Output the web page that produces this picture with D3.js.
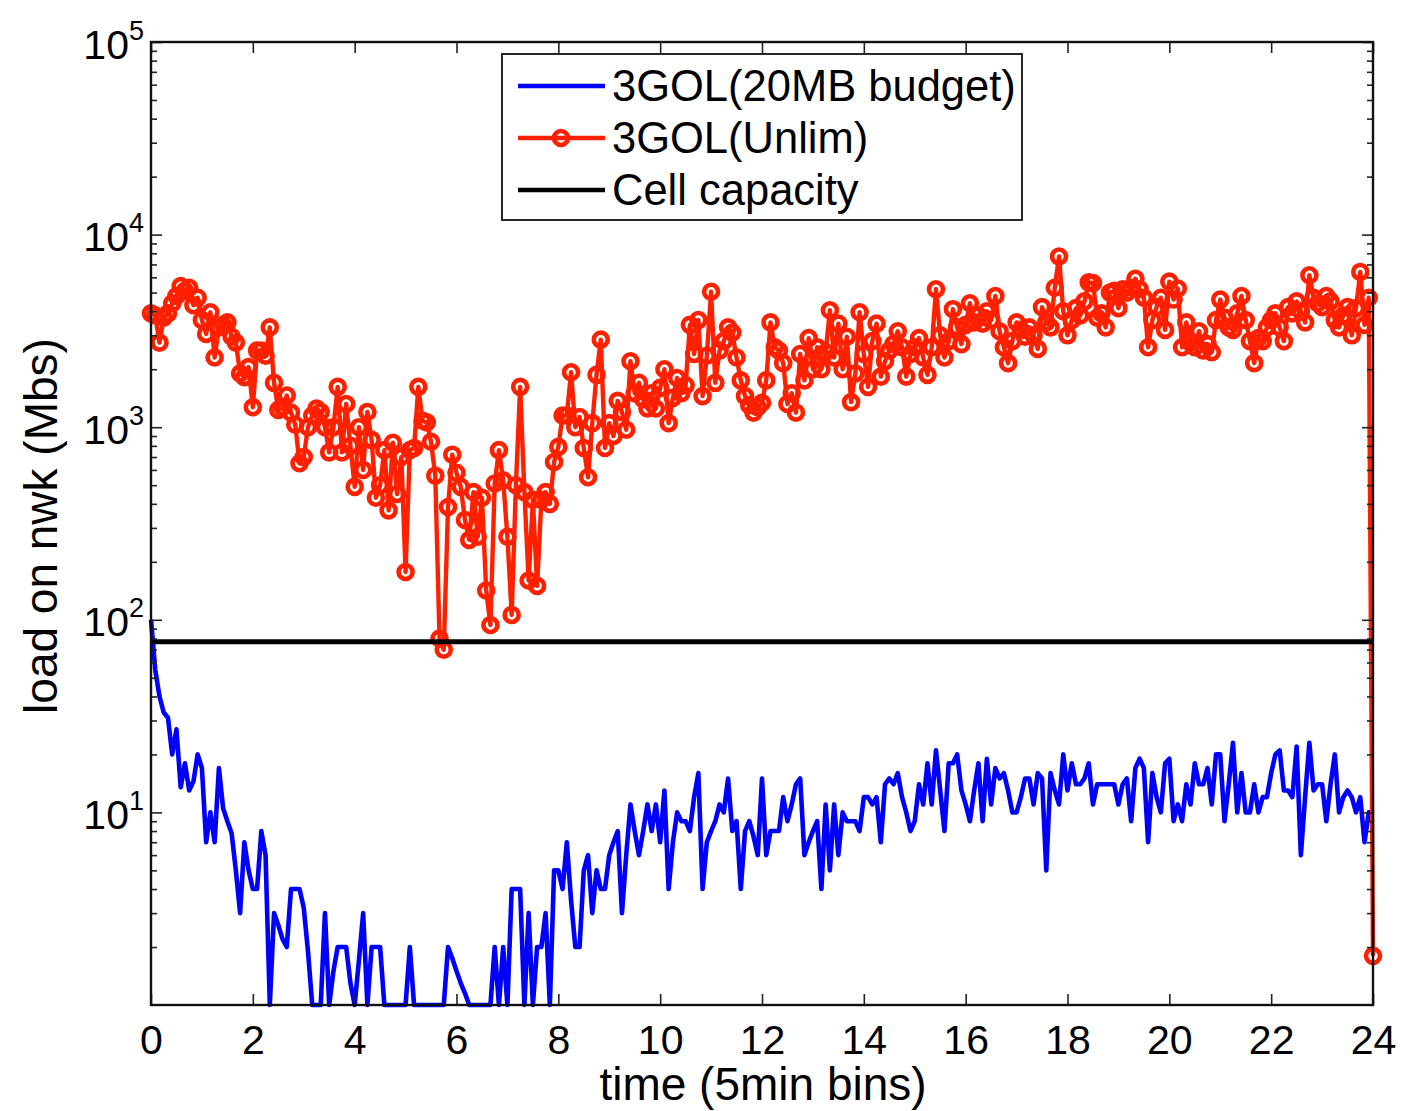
<!DOCTYPE html>
<html><head><meta charset="utf-8">
<script src="https://cdn.jsdelivr.net/npm/d3@7/dist/d3.min.js"></script>
<style>body{margin:0;background:#fff}svg{display:block}text{font-family:"Liberation Sans",Arial,Helvetica,sans-serif}</style>
</head><body><svg id="c" width="1403" height="1111"></svg>
<script>
// ---------- data ----------
const binMinutes = 5;
const xTicks = [0, 2, 4, 6, 8, 10, 12, 14, 16, 18, 20, 22, 24];
const yMajorTicks = [10, 100, 1000, 10000, 100000];
const yTickExponents = ["1", "2", "3", "4", "5"];
const seriesNames = ["3GOL(20MB budget)", "3GOL(Unlim)", "Cell capacity"];
const cellCapacity = 77;
const budgetLoad = [
100,55,40,33,31,20,27,13.5,18,13,14.5,20,17,7,10,7,17,10.5,9,7.8,
5,3,7,5,4,4,8,6,1,3,2.6,2.2,2,4,4,4,3.2,1.9,1,1,
1,3,1,1.5,2,2,2,1.3,1,1.7,3,1,2,2,2,1,1,1,1,1,
1,2,1,1,1,1,1,1,1,1,2,1.75,1.5,1.3,1.15,1,1,1,1,1,
1,2,1,2,1,4,4,4,1,3,1,2,2,3,1,5,5,4,7,3.5,
2,2,5,6,3,5,4,4,6,7,8,3,6,11,8,6,8,11,8,11,
7,13,4,7,10,9,9,8,12,16,4,7,8,9,11,10,15,8,9,4,
8,9,7.5,6,15,6,8,8,8,12,9,11,14,15,6,7,8,9,4,11,
5,11,6,10,9,9,9,8,12,12,11,12,7,14,15,14,16,12,10,8,
9,14,11,18,11,21,13,8,18,18,20,13,11,9,13,18,9,19,11,17,
15,16,13,10,10,12,15,15,11,16,15,5,16,13,11,20,13,18,14,14,
15,18,11,14,14,14,14,14,11,14,15,9,17,19,17,7,16,12,10,18,
19,9,11,9,14,11,18,14,14,17,11,20,20,9,14,23,10,16,10,10,
14,10,12,12,16,20,21,13,13,12,22,6,12,23,13,14,14,9,14,20,
10,12,13,12,10,12,7,10,10
];
const unlimLoad = [
3900,3800,2750,3700,3900,4400,4800,5400,5100,5300,4300,4700,3600,3050,3950,2300,3300,3400,3500,2950,
2750,1900,1820,2050,1270,2500,2500,2350,3300,1700,1230,1270,1460,1190,1030,650,700,1000,1150,1250,
1200,1000,740,1000,1620,740,1320,800,490,1000,600,1200,860,430,500,760,370,830,450,700,
177,760,780,1620,1080,1060,840,560,80,70,385,720,580,490,330,260,460,270,430,142,
94,510,760,530,270,106,500,1620,460,160,420,150,420,460,400,660,790,1150,1150,1930,
1000,1130,780,550,1050,1870,2850,780,1050,900,1370,1200,970,2200,1500,1700,1400,1250,1500,1250,
1600,2000,1050,1420,1800,1500,1650,3400,2400,3600,1450,2350,5050,1700,2500,2800,3300,3100,2300,1750,
1450,1300,1190,1270,1340,1750,3500,2600,2500,2150,1320,1500,1190,2400,1750,2900,2000,2600,2000,2450,
4050,2300,3450,2000,2950,1350,1900,3950,2400,1620,2800,3450,1830,2200,2500,2700,3150,2600,1830,2400,
2600,2900,2300,1870,2600,5200,3000,2300,2800,4100,3300,2700,3400,4400,3500,3800,3450,4000,3600,4800,
3150,2600,2150,2800,3500,3200,2950,3300,3000,2550,4200,3500,3300,5300,7700,4000,3000,3600,4150,3800,
4500,5650,5600,3700,3900,3300,5000,5100,4150,5200,5000,5300,5900,5200,4700,2600,3600,4200,4700,3200,
5700,4600,5250,2600,3500,2750,2600,3150,2500,2700,2450,3600,4600,3700,3300,3200,3900,4800,3600,2800,
2150,2900,2800,3300,3600,3900,3300,2800,4200,3900,4500,4000,3500,6150,4700,4400,4200,4800,4500,3600,
3300,3800,4200,3000,4150,6400,3400,4700,1.8
];

// ---------- chart ----------
const BLUE = "#0000ff", RED = "#ff2000", BLACK = "#000000";
const svg = d3.select("#c");
const L = 151, R = 1373, T = 42, B = 1005;
const x = d3.scaleLinear().domain([0, 24]).range([L, R]);
const y = d3.scaleLog().domain([1, 1e5]).range([B, T]);
const hours = i => i * binMinutes / 60;

const budgetPts = budgetLoad.map((v, i) => [hours(i), v]);
const unlimPts = unlimLoad.map((v, i) => [hours(i), v]);
const line = d3.line().x(d => x(d[0])).y(d => y(d[1]));

// series
svg.append("path").datum(budgetPts).attr("d", line)
  .attr("fill", "none").attr("stroke", BLUE).attr("stroke-width", 4.6).attr("stroke-linejoin", "round");
svg.append("path").datum(unlimPts).attr("d", line)
  .attr("fill", "none").attr("stroke", RED).attr("stroke-width", 4.4).attr("stroke-linejoin", "round");
svg.append("g").selectAll("circle").data(unlimPts).join("circle")
  .attr("cx", d => x(d[0])).attr("cy", d => y(d[1])).attr("r", 7)
  .attr("fill", "none").attr("stroke", RED).attr("stroke-width", 4.6);
svg.append("path").datum([[0, cellCapacity], [24, cellCapacity]]).attr("d", line)
  .attr("fill", "none").attr("stroke", BLACK).attr("stroke-width", 5);

// axes (ticks inward on all four sides)
const tickFont = "41px";
const xb = svg.append("g").attr("transform", `translate(0,${B})`)
  .call(d3.axisBottom(x).tickValues(xTicks).tickSizeInner(-11).tickSizeOuter(0).tickPadding(19).tickFormat(d3.format("d")));
xb.selectAll("text").attr("font-size", tickFont).attr("fill", "#000").attr("dy", "0.72em");
svg.append("g").attr("transform", `translate(0,${T})`)
  .call(d3.axisTop(x).tickValues(xTicks).tickSizeInner(-11).tickSizeOuter(0).tickFormat(""));

const minorVals = y.ticks().filter(v => !yMajorTicks.includes(v) && v > 1 && v < 1e5);
const yl = svg.append("g").attr("transform", `translate(${L},0)`)
  .call(d3.axisLeft(y).tickValues(yMajorTicks).tickSizeInner(-11).tickSizeOuter(0).tickPadding(6).tickFormat(() => ""));
yl.selectAll(".tick text").each(function(d, i) {
  const t = d3.select(this).text(null).attr("x", -7).attr("dy", null).attr("y", 16)
    .attr("text-anchor", "end").attr("fill", "#000");
  t.append("tspan").attr("font-size", tickFont).text("10");
  t.append("tspan").attr("font-size", "27px").attr("dy", -19).text(yTickExponents[i]);
});
svg.append("g").attr("transform", `translate(${L},0)`)
  .call(d3.axisLeft(y).tickValues(minorVals).tickSizeInner(-6).tickSizeOuter(0).tickFormat(""));
svg.append("g").attr("transform", `translate(${R},0)`)
  .call(d3.axisRight(y).tickValues(yMajorTicks).tickSizeInner(-11).tickSizeOuter(0).tickFormat(""));
svg.append("g").attr("transform", `translate(${R},0)`)
  .call(d3.axisRight(y).tickValues(minorVals).tickSizeInner(-6).tickSizeOuter(0).tickFormat(""));
svg.selectAll(".domain").remove();
svg.selectAll(".tick line").attr("stroke", "#222").attr("stroke-width", 1.6);

// frame
svg.append("rect").attr("x", L).attr("y", T).attr("width", R - L).attr("height", B - T)
  .attr("fill", "none").attr("stroke", "#111").attr("stroke-width", 2.4);

// axis titles
svg.append("text").attr("x", 763).attr("y", 1100).attr("text-anchor", "middle")
  .attr("font-size", "46px").attr("fill", "#000").text("time (5min bins)");
svg.append("text").attr("transform", "translate(57,526) rotate(-90)").attr("text-anchor", "middle")
  .attr("font-size", "46px").attr("fill", "#000").text("load on nwk (Mbs)");

// legend
const lg = svg.append("g");
lg.append("rect").attr("x", 502).attr("y", 54).attr("width", 520).attr("height", 166)
  .attr("fill", "#fff").attr("stroke", "#111").attr("stroke-width", 1.8);
const legendColors = [BLUE, RED, BLACK];
seriesNames.forEach((name, i) => {
  const ly = 86 + i * 52;
  lg.append("line").attr("x1", 518).attr("x2", 605).attr("y1", ly).attr("y2", ly)
    .attr("stroke", legendColors[i]).attr("stroke-width", 4.4);
  if (i === 1) lg.append("circle").attr("cx", 561).attr("cy", ly).attr("r", 7)
    .attr("fill", "none").attr("stroke", RED).attr("stroke-width", 4.6);
  lg.append("text").attr("x", 612).attr("y", ly + 15).attr("font-size", "43.5px").attr("fill", "#000").text(name);
});
</script></body></html>
